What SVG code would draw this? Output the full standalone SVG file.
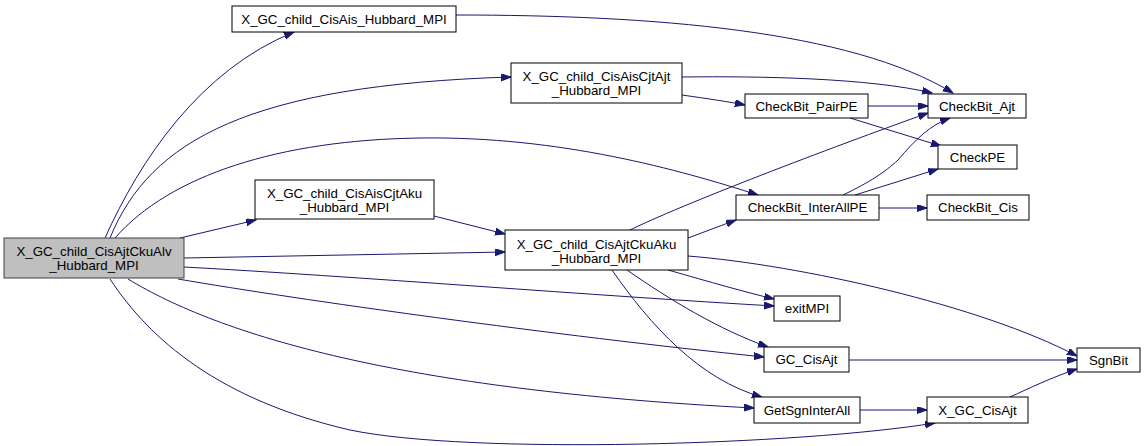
<svg xmlns="http://www.w3.org/2000/svg" width="1144" height="446" viewBox="0 0 1144 446">
<style>
.node rect{fill:#ffffff;stroke:#000000;stroke-width:1}
.node.main rect{fill:#bfbfbf;stroke:#404040}
.node text{font-family:"Liberation Sans",Arial,Helvetica,sans-serif;font-size:13.3px;fill:#000000;text-anchor:middle}
.edges path{fill:none;stroke:#191970;stroke-width:1;marker-end:url(#ah)}
</style>
<defs>
<marker id="ah" markerUnits="userSpaceOnUse" markerWidth="11" markerHeight="8" refX="10" refY="3.5" orient="auto" viewBox="0 0 11 8">
<path d="M0,0 L10,3.5 L0,7 z" fill="#191970" stroke="#191970" stroke-width="1"/>
</marker>
</defs>
<rect width="1144" height="446" fill="#ffffff"/>
<g id="edges" class="edges">
<path d="M105,238 C140,160 200,70 294,32"/>
<path d="M110,238 C150,140 250,85 511,77"/>
<path d="M115,238 C170,175 280,140 420,138 C560,136 680,170 758,195"/>
<path d="M180,238 L256,220"/>
<path d="M184,258 L505,252"/>
<path d="M184,267 C350,276 600,296 774,306"/>
<path d="M178,279 C300,300 550,335 764,357"/>
<path d="M128,279 C220,335 400,390 754,408"/>
<path d="M110,279 C150,340 220,400 350,430 C470,455 800,445 935,423"/>
<path d="M456,15 C650,15 850,30 953,93"/>
<path d="M682,77 C760,76 870,78 932,93"/>
<path d="M682,95 C710,99 730,102 745,105"/>
<path d="M868,106 L928,106"/>
<path d="M850,118 L941,146"/>
<path d="M843,195 C870,182 885,172 898,160 C915,140 930,125 950,118"/>
<path d="M855,195 L938,169"/>
<path d="M879,208 L927,208"/>
<path d="M628,231 C680,205 830,148 928,113"/>
<path d="M688,238 L736,220"/>
<path d="M434,216 L505,234"/>
<path d="M668,270 C710,282 745,292 774,299"/>
<path d="M627,270 C670,300 720,330 768,347"/>
<path d="M612,270 C650,325 700,380 762,397"/>
<path d="M688,256 C800,265 980,305 1077,356"/>
<path d="M849,360 L1077,360"/>
<path d="M860,410 L927,410"/>
<path d="M1010,397 C1030,388 1050,378 1077,369"/>
</g>
<g id="main" class="node main"><rect x="4" y="238" width="180" height="40"/><text x="94" y="256">X_GC_child_CisAjtCkuAlv</text><text x="94" y="270">_Hubbard_MPI</text></g>
<g id="n_cisais" class="node"><rect x="232" y="6" width="224" height="26"/><text x="344" y="24">X_GC_child_CisAis_Hubbard_MPI</text></g>
<g id="n_cisaiscjtajt" class="node"><rect x="511" y="63" width="171" height="40"/><text x="596.5" y="81">X_GC_child_CisAisCjtAjt</text><text x="596.5" y="95">_Hubbard_MPI</text></g>
<g id="n_cisaiscjtaku" class="node"><rect x="255" y="180" width="179" height="39"/><text x="344.5" y="198">X_GC_child_CisAisCjtAku</text><text x="344.5" y="212">_Hubbard_MPI</text></g>
<g id="n_cisajtckuaku" class="node"><rect x="505" y="230" width="183" height="40"/><text x="596.5" y="249">X_GC_child_CisAjtCkuAku</text><text x="596.5" y="263">_Hubbard_MPI</text></g>
<g id="n_pairpe" class="node"><rect x="745" y="94" width="123" height="24"/><text x="806.5" y="110.5">CheckBit_PairPE</text></g>
<g id="n_ajt" class="node"><rect x="928" y="94" width="98" height="24"/><text x="977" y="110.5">CheckBit_Ajt</text></g>
<g id="n_checkpe" class="node"><rect x="938" y="145" width="79" height="24"/><text x="977.5" y="161.5">CheckPE</text></g>
<g id="n_interallpe" class="node"><rect x="736" y="195" width="143" height="25"/><text x="807.5" y="212">CheckBit_InterAllPE</text></g>
<g id="n_cis" class="node"><rect x="927" y="195" width="102" height="25"/><text x="978" y="212">CheckBit_Cis</text></g>
<g id="n_exitmpi" class="node"><rect x="774" y="296" width="66" height="25"/><text x="807" y="313">exitMPI</text></g>
<g id="n_gccisajt" class="node"><rect x="764" y="347" width="85" height="25"/><text x="806.5" y="364">GC_CisAjt</text></g>
<g id="n_getsgn" class="node"><rect x="754" y="397" width="106" height="26"/><text x="807" y="414.5">GetSgnInterAll</text></g>
<g id="n_xgccisajt" class="node"><rect x="927" y="397" width="101" height="26"/><text x="977.5" y="414.5">X_GC_CisAjt</text></g>
<g id="n_sgnbit" class="node"><rect x="1077" y="348" width="63" height="24"/><text x="1108.5" y="364.5">SgnBit</text></g>
</svg>
